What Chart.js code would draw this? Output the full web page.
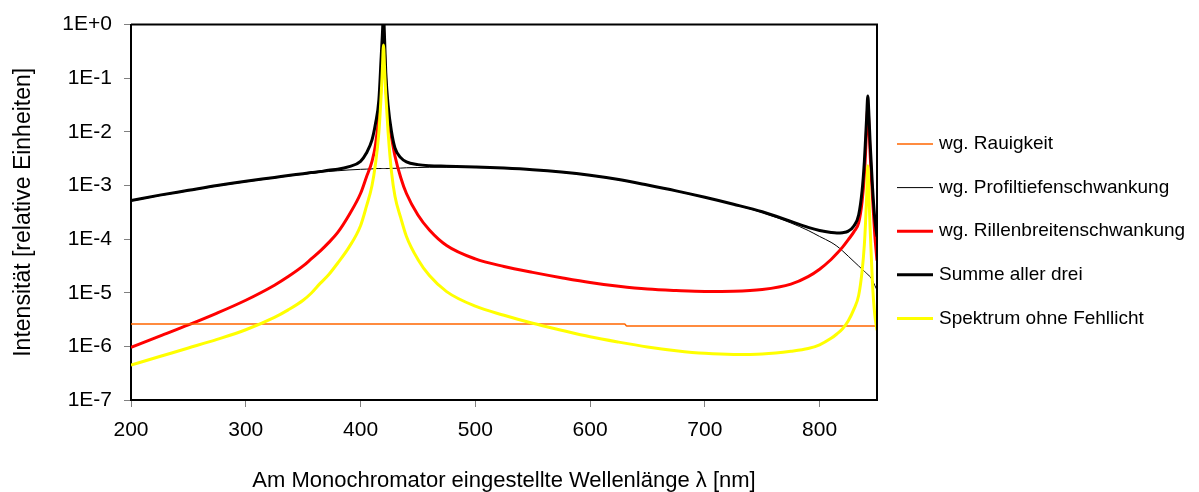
<!DOCTYPE html>
<html>
<head>
<meta charset="utf-8">
<title>Intensität</title>
<script src="https://cdn.jsdelivr.net/npm/chart.js@4.4.0/dist/chart.umd.min.js"></script>
<style>
  html, body { margin: 0; padding: 0; background: #fff; }
  #container { width: 1199px; height: 492px; position: relative; }
</style>
</head>
<body>
<div id="container"><canvas id="myChart"></canvas></div>
<script>
'use strict';

// data
let wavelengths = [200, 225, 250, 275, 300, 325, 337, 350, 357, 365,
  372, 380, 390, 400, 405, 410, 413, 416, 418, 419,
  420, 421, 422, 424, 427, 430, 435, 440, 450, 460,
  475, 500, 525, 550, 575, 600, 625, 650, 675, 700,
  725, 750, 775, 790, 800, 810, 815, 820, 825, 830,
  834, 837, 839, 840, 841, 842, 843, 844, 846, 848,
  850];

// roughness is a flat line with a small step near 630 nm
let rauWavelengths = [200, 630, 632, 850];
let rauigkeit = [2.6e-6, 2.6e-6, 2.4e-6, 2.4e-6];

let profiltiefe = [5.13e-4, 6.46e-4, 7.94e-4, 9.77e-4, 1.17e-3, 1.38e-3, 1.50e-3, 1.62e-3, 1.68e-3, 1.76e-3,
  1.82e-3, 1.88e-3, 1.95e-3, 2.00e-3, 2.02e-3, 2.04e-3, 2.07e-3, 2.07e-3, 2.07e-3, 2.07e-3,
  2.07e-3, 2.07e-3, 2.07e-3, 2.07e-3, 2.09e-3, 2.09e-3, 2.11e-3, 2.14e-3, 2.16e-3, 2.19e-3,
  2.19e-3, 2.16e-3, 2.09e-3, 1.95e-3, 1.76e-3, 1.53e-3, 1.27e-3, 1.01e-3, 7.85e-4, 5.96e-4,
  4.42e-4, 3.13e-4, 2.00e-4, 1.45e-4, 1.12e-4, 8.71e-5, 7.41e-5, 6.03e-5, 4.79e-5, 3.80e-5,
  3.16e-5, 2.75e-5, 2.51e-5, 2.40e-5, 2.29e-5, 2.19e-5, 2.09e-5, 2.00e-5, 1.70e-5, 1.38e-5,
  1.12e-5];

let rillenbreite = [9.55e-7, 1.55e-6, 2.51e-6, 4.17e-6, 7.24e-6, 1.38e-5, 2.00e-5, 3.16e-5, 4.27e-5, 6.03e-5,
  8.51e-5, 1.32e-4, 2.82e-4, 7.08e-4, 1.41e-3, 2.82e-3, 5.62e-3, 2.00e-2, 7.94e-2, 0.251,
  0.794, 0.251, 7.94e-2, 2.00e-2, 7.94e-3, 3.55e-3, 1.41e-3, 7.08e-4, 2.82e-4, 1.48e-4,
  7.59e-5, 4.27e-5, 3.09e-5, 2.40e-5, 1.91e-5, 1.55e-5, 1.32e-5, 1.17e-5, 1.10e-5, 1.06e-5,
  1.07e-5, 1.15e-5, 1.45e-5, 2.00e-5, 2.75e-5, 4.17e-5, 5.37e-5, 7.08e-5, 9.77e-5, 1.38e-4,
  2.00e-4, 5.01e-4, 1.58e-3, 3.98e-3, 1.26e-2, 2.82e-2, 1.26e-2, 3.98e-3, 6.31e-4, 1.26e-4,
  3.98e-5];

let summe = [5.25e-4, 6.61e-4, 8.13e-4, 1.00e-3, 1.20e-3, 1.41e-3, 1.53e-3, 1.66e-3, 1.74e-3, 1.82e-3,
  1.93e-3, 2.00e-3, 2.24e-3, 2.82e-3, 3.98e-3, 7.08e-3, 1.41e-2, 3.98e-2, 0.251, 0.631,
  1.58, 0.501, 0.126, 3.16e-2, 1.00e-2, 5.01e-3, 3.31e-3, 2.75e-3, 2.45e-3, 2.34e-3,
  2.29e-3, 2.21e-3, 2.11e-3, 1.97e-3, 1.78e-3, 1.55e-3, 1.29e-3, 1.02e-3, 7.94e-4, 6.03e-4,
  4.47e-4, 3.24e-4, 2.14e-4, 1.66e-4, 1.45e-4, 1.33e-4, 1.30e-4, 1.32e-4, 1.41e-4, 1.78e-4,
  2.82e-4, 7.94e-4, 2.82e-3, 7.08e-3, 1.91e-2, 4.68e-2, 2.00e-2, 6.31e-3, 1.00e-3, 2.51e-4,
  1.12e-4];

let spektrum = [4.47e-7, 6.46e-7, 9.33e-7, 1.35e-6, 2.04e-6, 3.47e-6, 4.79e-6, 7.24e-6, 9.77e-6, 1.51e-5,
  2.14e-5, 3.55e-5, 7.08e-5, 1.78e-4, 3.98e-4, 1.00e-3, 2.51e-3, 1.00e-2, 5.01e-2, 0.141,
  0.417, 0.141, 5.01e-2, 1.00e-2, 1.78e-3, 6.31e-4, 2.51e-4, 1.12e-4, 4.17e-5, 2.09e-5,
  1.05e-5, 5.62e-6, 3.80e-6, 2.69e-6, 2.00e-6, 1.51e-6, 1.20e-6, 9.77e-7, 8.32e-7, 7.41e-7,
  7.08e-7, 7.24e-7, 8.13e-7, 9.12e-7, 1.07e-6, 1.41e-6, 1.70e-6, 2.14e-6, 3.02e-6, 5.01e-6,
  8.91e-6, 2.51e-5, 7.94e-5, 2.00e-4, 6.31e-4, 2.34e-3, 6.31e-4, 1.58e-4, 1.58e-5, 3.98e-6,
  2.00e-6];

let xTicks = [200, 300, 400, 500, 600, 700, 800];
let yTicks = [1e-7, 1e-6, 1e-5, 1e-4, 1e-3, 1e-2, 1e-1, 1];
let yTickLabels = ['1E-7', '1E-6', '1E-5', '1E-4', '1E-3', '1E-2', '1E-1', '1E+0'];

let fontFamily = '"Liberation Sans", Arial, sans-serif';

// helper to pair x and y arrays
function toPoints(xs, ys) {
  return xs.map((x, i) => ({ x: x, y: ys[i] }));
}

// plot box (top and right edges) and the legend on the right
let frameAndLegend = {
  id: 'frameAndLegend',
  afterDatasetsDraw(chart) {
    let c = chart.ctx;
    let a = chart.chartArea;
    c.save();
    c.strokeStyle = '#000';
    c.lineWidth = 2;
    c.beginPath();
    c.moveTo(a.left, a.top);
    c.lineTo(a.right, a.top);
    c.lineTo(a.right, a.bottom);
    c.stroke();
    c.restore();
  },
  afterDraw(chart) {
    let c = chart.ctx;
    c.save();
    c.font = '19px ' + fontFamily;
    c.textBaseline = 'middle';
    c.textAlign = 'left';
    chart.data.datasets.forEach((ds, n) => {
      let y = 144 + n * 43.6;
      c.strokeStyle = ds.borderColor;
      c.lineWidth = ds.borderWidth;
      c.beginPath();
      c.moveTo(897, y);
      c.lineTo(933, y);
      c.stroke();
      c.fillStyle = '#000';
      c.fillText(ds.label, 939, y);
    });
    c.restore();
  }
};

let ctx = document.getElementById('myChart');

let myChartObj = {
  type: 'line',
  data: {
    datasets: [{
      label: 'wg. Rauigkeit',
      data: toPoints(rauWavelengths, rauigkeit),
      borderColor: '#FF6600',
      borderWidth: 1.5,
      order: 1
    },
    {
      label: 'wg. Profiltiefenschwankung',
      data: toPoints(wavelengths, profiltiefe),
      borderColor: '#000000',
      borderWidth: 1,
      order: 4
    },
    {
      label: 'wg. Rillenbreitenschwankung',
      data: toPoints(wavelengths, rillenbreite),
      borderColor: '#FF0000',
      borderWidth: 3,
      order: 3
    },
    {
      label: 'Summe aller drei',
      data: toPoints(wavelengths, summe),
      borderColor: '#000000',
      borderWidth: 3,
      order: 2
    },
    {
      label: 'Spektrum ohne Fehllicht',
      data: toPoints(wavelengths, spektrum),
      borderColor: '#FFFF00',
      borderWidth: 3,
      order: 0
    }]
  },
  options: {
    responsive: true,
    maintainAspectRatio: false,
    animation: false,
    layout: {
      padding: { top: 21, right: 322, bottom: 0, left: 0 }
    },
    elements: {
      point: { radius: 0 },
      line: { cubicInterpolationMode: 'monotone', fill: false }
    },
    plugins: {
      legend: { display: false },
      tooltip: { enabled: false }
    },
    scales: {
      x: {
        type: 'linear',
        min: 200,
        max: 850,
        afterBuildTicks: (s) => { s.ticks = xTicks.map((v) => ({ value: v })); },
        afterFit: (s) => { s.height = 92; },
        grid: { drawOnChartArea: false, drawTicks: true, tickLength: 7, color: '#808080' },
        border: { display: true, color: '#000', width: 2 },
        ticks: {
          color: '#000',
          padding: 11,
          maxRotation: 0,
          autoSkip: false,
          font: { family: fontFamily, size: 21 }
        },
        title: {
          display: true,
          text: 'Am Monochromator eingestellte Wellenlänge λ [nm]',
          color: '#000',
          padding: { top: 4, bottom: -2 },
          font: { family: fontFamily, size: 22 }
        }
      },
      y: {
        type: 'logarithmic',
        min: 1e-7,
        max: 1,
        afterBuildTicks: (s) => { s.ticks = yTicks.map((v) => ({ value: v })); },
        afterFit: (s) => { s.width = 131; },
        grid: { drawOnChartArea: false, drawTicks: true, tickLength: 7, color: '#808080' },
        border: { display: true, color: '#000', width: 2 },
        ticks: {
          color: '#000',
          padding: 12,
          autoSkip: false,
          font: { family: fontFamily, size: 21 },
          callback: (value, index) => yTickLabels[index]
        },
        title: {
          display: true,
          text: 'Intensität [relative Einheiten]',
          color: '#000',
          padding: { top: 10, bottom: 0 },
          font: { family: fontFamily, size: 23 }
        }
      }
    }
  },
  plugins: [frameAndLegend]
};

new Chart(ctx, myChartObj);
</script>
</body>
</html>
